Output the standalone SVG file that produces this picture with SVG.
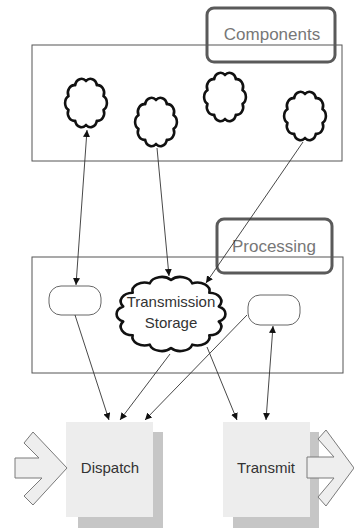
<svg xmlns="http://www.w3.org/2000/svg" xmlns:xlink="http://www.w3.org/1999/xlink" width="354" height="528" viewBox="0 0 354 528">
  <style>
    .frame { fill: none; stroke: #555; stroke-width: 1; }
    .label-box { fill: none; stroke: #5a5a5a; stroke-width: 3; }
    .label { font-family: "Liberation Sans", Arial, sans-serif; font-size: 17px; fill: #777; text-anchor: middle; }
    .cloud { fill: #fff; stroke: #111; stroke-width: 2.6; stroke-linejoin: round; }
    .slot { fill: #fff; stroke: #666; stroke-width: 1; }
    .text { font-family: "Liberation Sans", Arial, sans-serif; font-size: 15px; fill: #333; text-anchor: middle; }
    .link { fill: none; stroke: #333; stroke-width: 0.9; }
    .card { fill: #ededed; }
    .shadow { fill: #c6c6c6; }
    .chevron { fill: #eeeeee; stroke: #7a7a7a; stroke-width: 1; stroke-linejoin: miter; }
  </style>
  <defs>
    <!-- ten-bump cloud outline on a radius-20 circle -->
    <path id="cloud10" vector-effect="non-scaling-stroke"
          d="M0,-20 A7,7 0 0 1 11.76,-16.18 A7,7 0 0 1 19.02,-6.18 A7,7 0 0 1 19.02,6.18 A7,7 0 0 1 11.76,16.18 A7,7 0 0 1 0,20 A7,7 0 0 1 -11.76,16.18 A7,7 0 0 1 -19.02,6.18 A7,7 0 0 1 -19.02,-6.18 A7,7 0 0 1 -11.76,-16.18 A7,7 0 0 1 0,-20 Z"/>
    <!-- fourteen-bump cloud outline on a radius-20 circle -->
    <path id="cloud14" vector-effect="non-scaling-stroke"
          d="M0,-20 A5,5 0 0 1 8.68,-18.02 A5,5 0 0 1 15.64,-12.47 A5,5 0 0 1 19.5,-4.45 A5,5 0 0 1 19.5,4.45 A5,5 0 0 1 15.64,12.47 A5,5 0 0 1 8.68,18.02 A5,5 0 0 1 0,20 A5,5 0 0 1 -8.68,18.02 A5,5 0 0 1 -15.64,12.47 A5,5 0 0 1 -19.5,4.45 A5,5 0 0 1 -19.5,-4.45 A5,5 0 0 1 -15.64,-12.47 A5,5 0 0 1 -8.68,-18.02 A5,5 0 0 1 0,-20 Z"/>
    <marker id="arrow" viewBox="0 0 10 10" refX="10" refY="5" markerWidth="7" markerHeight="7" markerUnits="userSpaceOnUse" orient="auto-start-reverse">
      <path d="M0,0 L10,5 L0,10 Z" fill="#111"/>
    </marker>
  </defs>

  <!-- Components area -->
  <g id="components">
    <rect class="frame" x="32" y="45" width="310" height="116"/>
    <rect class="label-box" x="207" y="8" width="128" height="54" rx="7"/>
    <text class="label" x="272" y="40" font-size="18">Components</text>
  </g>
  <g id="component-1"><use xlink:href="#cloud10" class="cloud" transform="translate(86,103) scale(0.92,1.1)"/></g>
  <g id="component-2"><use xlink:href="#cloud10" class="cloud" transform="translate(156,122) scale(0.92,1.1)"/></g>
  <g id="component-3"><use xlink:href="#cloud10" class="cloud" transform="translate(225,97) scale(0.92,1.1)"/></g>
  <g id="component-4"><use xlink:href="#cloud10" class="cloud" transform="translate(305,116) scale(0.92,1.1)"/></g>

  <!-- Processing area -->
  <g id="processing">
    <rect class="frame" x="32" y="257" width="311" height="116"/>
    <rect class="label-box" x="217" y="219" width="115" height="54" rx="7"/>
    <text class="label" x="274" y="252">Processing</text>
  </g>
  <g id="slot-left"><rect class="slot" x="49" y="286" width="52" height="29" rx="12"/></g>
  <g id="storage">
    <use xlink:href="#cloud14" class="cloud" transform="translate(171,314) scale(2.45,1.7)"/>
    <text class="text" x="171" y="307" fill="#444">Transmission</text>
    <text class="text" x="171" y="328" fill="#444">Storage</text>
  </g>
  <g id="slot-right"><rect class="slot" x="248" y="295" width="52" height="30" rx="12"/></g>

  <!-- Outputs -->
  <g id="dispatch">
    <rect class="shadow" x="78" y="432" width="85" height="96"/>
    <rect class="card" x="66" y="422" width="87" height="95"/>
    <text class="text" x="110" y="473">Dispatch</text>
  </g>
  <g id="transmit">
    <rect class="shadow" x="233" y="432" width="86" height="96"/>
    <rect class="card" x="223" y="422" width="87" height="95"/>
    <text class="text" x="266" y="473">Transmit</text>
  </g>
  <g id="input-arrow">
    <polygon class="chevron" points="15,458 39,458 24,443 33,432 67,468 33,505 24,496 42,478 15,478"/>
  </g>
  <g id="output-arrow">
    <polygon class="chevron" points="307,457 334,457 318,439 326,430 354,468 326,506 318,497 334,478 307,478"/>
  </g>

  <!-- Connectors -->
  <g id="connectors">
    <line class="link" x1="87" y1="130" x2="76" y2="285" marker-start="url(#arrow)" marker-end="url(#arrow)"/>
    <line class="link" x1="157" y1="148" x2="169" y2="276" marker-end="url(#arrow)"/>
    <line class="link" x1="303" y1="142" x2="206" y2="283" marker-end="url(#arrow)"/>
    <line class="link" x1="75" y1="315" x2="109" y2="420" marker-end="url(#arrow)"/>
    <line class="link" x1="170" y1="354" x2="120" y2="420" marker-end="url(#arrow)"/>
    <line class="link" x1="247" y1="315" x2="145" y2="420" marker-end="url(#arrow)"/>
    <line class="link" x1="207" y1="347" x2="237" y2="420" marker-end="url(#arrow)"/>
    <line class="link" x1="273" y1="326" x2="266" y2="420" marker-start="url(#arrow)" marker-end="url(#arrow)"/>
  </g>
</svg>
